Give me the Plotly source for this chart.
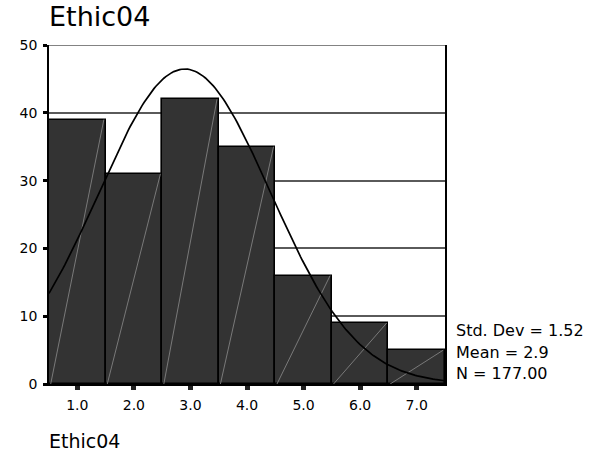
import math
import plotly.graph_objects as go

# Histogram of Ethic04 responses
bin_centers = [1.0, 2.0, 3.0, 4.0, 5.0, 6.0, 7.0]
counts = [39, 31, 42, 35, 16, 9, 5]
tick_labels = ["1.0", "2.0", "3.0", "4.0", "5.0", "6.0", "7.0"]
y_ticks = [0, 10, 20, 30, 40, 50]

# Summary statistics
std_dev = 1.52
mean = 2.9
n_obs = 177
bin_width = 1.0

FONT = "DejaVu Sans"

fig = go.Figure()

fig.add_trace(go.Bar(
    x=bin_centers, y=counts, width=bin_width,
    marker=dict(color="#333333", line=dict(color="black", width=1.6)),
    hoverinfo="skip", showlegend=False,
))

# Light diagonal stroke inside each bar (bottom-left to top-right)
dx, dy = [], []
for c, v in zip(bin_centers, counts):
    dx += [c - bin_width / 2 + 0.03, c + bin_width / 2 - 0.03, None]
    dy += [0, v, None]
fig.add_trace(go.Scatter(
    x=dx, y=dy, mode="lines",
    line=dict(color="#8c8c8c", width=0.8),
    hoverinfo="skip", showlegend=False,
))

# Fitted normal curve scaled to counts
lo, hi = bin_centers[0] - bin_width / 2, bin_centers[-1] + bin_width / 2
steps = 200
cx = [lo + (hi - lo) * i / steps for i in range(steps + 1)]
scale = n_obs * bin_width / (std_dev * math.sqrt(2 * math.pi))
cy = [scale * math.exp(-((v - mean) ** 2) / (2 * std_dev ** 2)) for v in cx]
fig.add_trace(go.Scatter(
    x=cx, y=cy, mode="lines",
    line=dict(color="black", width=1.7),
    hoverinfo="skip", showlegend=False,
))

# Grid line along the top of the value range
fig.add_shape(
    type="line", xref="paper", yref="y", x0=0, x1=1,
    y0=y_ticks[-1], y1=y_ticks[-1],
    line=dict(color="#5a5a5a", width=1.5), layer="below",
)

stats_lines = [
    f"Std. Dev = {std_dev:.2f}",
    f"Mean = {mean:.1f}",
    f"N = {n_obs:.2f}",
]
stat_y = [0.158, 0.094, 0.031]
for txt, yy in zip(stats_lines, stat_y):
    fig.add_annotation(
        text=txt, xref="paper", yref="paper", x=1, y=yy,
        xanchor="left", yanchor="middle", xshift=9, showarrow=False,
        font=dict(family=FONT, size=16, color="black"),
    )

fig.add_annotation(
    text="Ethic04", xref="paper", yref="paper", x=0, y=-0.168,
    xanchor="left", yanchor="middle", xshift=-2, showarrow=False,
    font=dict(family=FONT, size=19, color="black"),
)

fig.update_layout(
    width=608, height=454,
    margin=dict(l=49, r=163, t=45, b=70),
    paper_bgcolor="white", plot_bgcolor="white",
    bargap=0,
    title=dict(
        text="Ethic04", x=0, xref="paper", xanchor="left",
        y=1 - 17 / 454, yref="container", yanchor="middle",
        font=dict(family=FONT, size=27, color="black"),
    ),
    xaxis=dict(
        range=[lo, hi], tickvals=bin_centers, ticktext=tick_labels,
        showgrid=False, zeroline=False,
        showline=True, linecolor="black", linewidth=1.5,
        ticks="outside", ticklen=4, tickwidth=5, tickcolor="#222",
        ticklabelstandoff=3,
        tickfont=dict(family=FONT, size=14, color="black"),
    ),
    yaxis=dict(
        range=[0, 50], tickvals=y_ticks,
        showgrid=True, gridcolor="#5a5a5a", gridwidth=1.5,
        zeroline=False,
        showline=True, mirror=True, linecolor="black", linewidth=1.8,
        ticks="outside", ticklen=4, tickwidth=3, tickcolor="black",
        ticklabelstandoff=3,
        tickfont=dict(family=FONT, size=14, color="black"),
    ),
)

fig.write_html("out.html")
